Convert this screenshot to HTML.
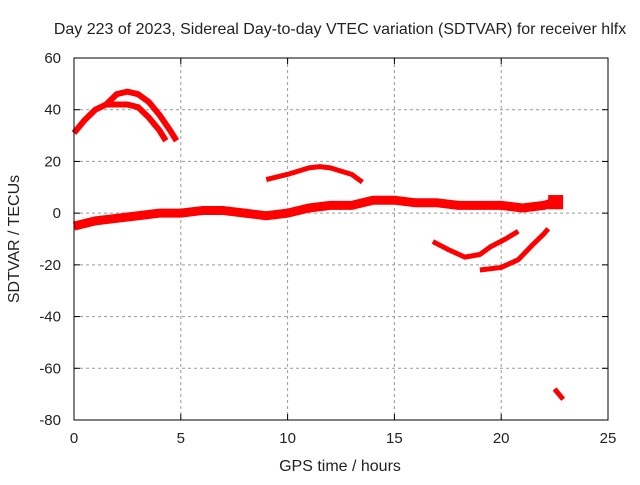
<!DOCTYPE html>
<html><head><meta charset="utf-8"><style>
body{margin:0;background:#fff}
svg text{font-family:"Liberation Sans",sans-serif;font-size:15px;fill:#222}
svg text.big{font-size:16px}
</style></head><body>
<svg id="chart" width="640" height="480" xmlns="http://www.w3.org/2000/svg">
<text class="big" x="340" y="34" text-anchor="middle">Day 223 of 2023, Sidereal Day-to-day VTEC variation (SDTVAR) for receiver hlfx</text>
<text class="big" transform="translate(19,239) rotate(-90)" text-anchor="middle">SDTVAR / TECUs</text>
<text class="big" x="340" y="471" text-anchor="middle">GPS time / hours</text>
<g id="grid"></g>
<g id="series"></g>
<rect x="74" y="58" width="534" height="362" fill="none" stroke="#000" stroke-width="1"/>
<g id="ticks"></g>
</svg>
<script>
const xTicks=[0,5,10,15,20,25];
const yTicks=[60,40,20,0,-20,-40,-60,-80];
const arcLowerX=[0,0.5,1,1.5,2,2.5,3,3.5,4,4.3];
const arcLowerY=[31,36,40,42,42,42,41,37,32,28];
const arcUpperX=[1.5,2,2.5,3,3.5,4,4.5,4.8];
const arcUpperY=[42,46,47,46,43,38,32,28];
const bandX=[0,1,2,3,4,5,6,7,8,9,10,11,12,13,14,15,16,17,18,19,20,21,22,22.8];
const bandY=[-5,-3,-2,-1,0,0,1,1,0,-1,0,2,3,3,5,5,4,4,3,3,3,2,3,5];
const segCX=[9,10,11,11.5,12,13,13.5];
const segCY=[13,15,17.5,18,17.5,15,12];
const segDX=[16.8,17.5,18.3,19,19.5,20.2,20.8];
const segDY=[-11,-14,-17,-16,-13,-10,-7];
const segEX=[19,20,20.8,21.5,22,22.2];
const segEY=[-22,-21,-18,-12,-8,-6];
const segFX=[22.5,22.9];
const segFY=[-68,-72];
const X0=74,X1=608,Y0=420,Y1=58;
const xs=h=>X0+(h-0)/(25-0)*(X1-X0);
const ys=v=>Y0-(v+80)/(140)*(Y0-Y1);
const NS="http://www.w3.org/2000/svg";
const grid=document.getElementById('grid'),ticks=document.getElementById('ticks'),ser=document.getElementById('series');
function mk(t,a,p){const e=document.createElementNS(NS,t);for(const k in a)e.setAttribute(k,a[k]);p.appendChild(e);return e;}
xTicks.forEach(t=>{const x=xs(t);
 if(t>0&&t<25){const g=mk('line',{x1:x,x2:x,y1:Y1,y2:Y0,stroke:'#999','stroke-dasharray':'3,3'},grid);
 
 }
 mk('line',{x1:x,x2:x,y1:Y0,y2:Y0-6,stroke:'#000'},ticks);
 mk('line',{x1:x,x2:x,y1:Y1,y2:Y1+6,stroke:'#000'},ticks);
 const l=mk('text',{x:x,y:Y0+23,'text-anchor':'middle'},ticks);l.textContent=t;
 
 });
yTicks.forEach(t=>{const y=ys(t);
 if(t<60&&t>-80){const g=mk('line',{x1:X0,x2:X1,y1:y,y2:y,stroke:'#999','stroke-dasharray':'3,3'},grid);
 
 }
 mk('line',{x1:X0,x2:X0+6,y1:y,y2:y,stroke:'#000'},ticks);
 mk('line',{x1:X1,x2:X1-6,y1:y,y2:y,stroke:'#000'},ticks);
 const l=mk('text',{x:X0-13,y:y+5,'text-anchor':'end'},ticks);l.textContent=t;
 
 });
function draw(xa,ya,name,w){
 const p=mk('polyline',{points:xa.map((h,i)=>xs(h)+','+ys(ya[i])).join(' '),fill:'none',stroke:'#f00','stroke-width':w,'stroke-linejoin':'round','stroke-linecap':'butt'},ser);
 
 }
draw(arcLowerX,arcLowerY,'arc-lower',6);
draw(arcUpperX,arcUpperY,'arc-upper',6);
draw(bandX,bandY,'main-band',9);
draw(segCX,segCY,'segment-13h',5);
draw(segDX,segDY,'segment-18h',5);
draw(segEX,segEY,'segment-20h',5);
draw(segFX,segFY,'segment-23h',5);
const blk=mk('rect',{x:xs(22.2),y:ys(7),width:xs(22.9)-xs(22.2),height:ys(1.5)-ys(7),fill:'#f00'},ser);


</script>
</body></html>
